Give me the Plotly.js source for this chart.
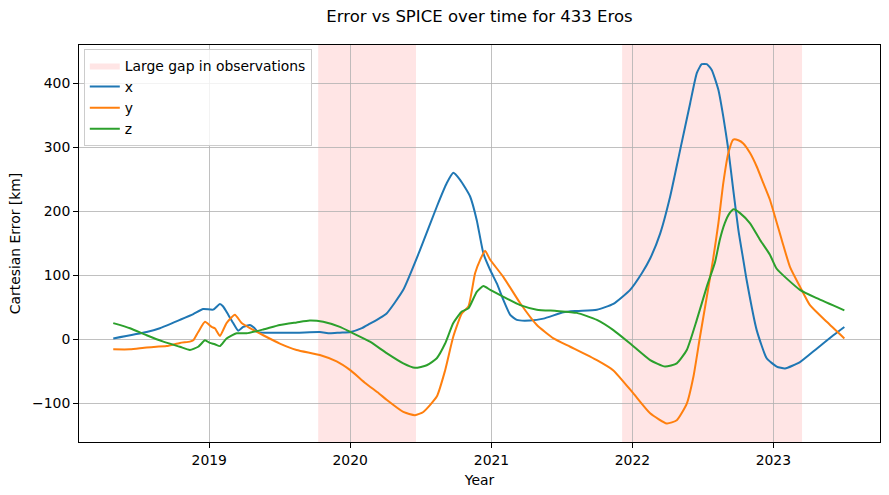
<!DOCTYPE html>
<html>
<head>
<meta charset="utf-8">
<script src="https://cdn.plot.ly/plotly-3.0.1.min.js"></script>
<style>html,body{margin:0;padding:0;background:#fff;}#chart{width:889px;height:495px;}</style>
</head>
<body>
<div id="chart"></div>
<script>
// decimal years and error values [km]
const xYears = [2018.319,2018.556,2018.650,2018.792,2018.887,2018.957,2019.028,2019.076,2019.099,2019.135,2019.170,2019.206,2019.241,2019.289,2019.317,2019.348,2019.407,2019.620,2019.785,2019.856,2019.927,2020.003,2020.083,2020.140,2020.204,2020.258,2020.376,2020.494,2020.613,2020.684,2020.730,2020.778,2020.849,2020.896,2020.943,2020.991,2021.038,2021.085,2021.133,2021.180,2021.274,2021.369,2021.511,2021.606,2021.748,2021.865,2021.984,2022.067,2022.126,2022.197,2022.268,2022.339,2022.410,2022.457,2022.492,2022.528,2022.563,2022.610,2022.645,2022.681,2022.716,2022.752,2022.787,2022.811,2022.882,2022.953,2023.024,2023.083,2023.189,2023.308,2023.426,2023.504];
const xErr = [1,11,17,30,39,47,46,55,51,38,25,13,19,22,18,11,10,10,11,9,10,11,17,24,32,40,77,139,207,244,260,249,223,186,134,108,87,61,38,30,29,32,42,44,46,55,77,103,126,165,223,296,369,416,430,430,421,390,348,296,233,171,124,92,14,-30,-43,-46,-36,-15,6,19];

const yYears = [2018.319,2018.438,2018.556,2018.698,2018.792,2018.863,2018.887,2018.922,2018.970,2019.017,2019.040,2019.076,2019.123,2019.182,2019.230,2019.289,2019.383,2019.501,2019.620,2019.785,2019.904,2020.003,2020.109,2020.204,2020.258,2020.376,2020.459,2020.518,2020.613,2020.672,2020.730,2020.790,2020.837,2020.884,2020.920,2020.955,2020.991,2021.085,2021.204,2021.322,2021.440,2021.559,2021.748,2021.865,2022.007,2022.126,2022.244,2022.315,2022.386,2022.433,2022.480,2022.528,2022.572,2022.610,2022.645,2022.681,2022.716,2022.752,2022.787,2022.835,2022.882,2022.929,2022.976,2023.060,2023.118,2023.189,2023.260,2023.379,2023.504];
const yErr = [-16,-16,-13,-11,-6,-4,-2,11,27,19,17,5,25,38,25,17,6,-7,-17,-25,-35,-49,-69,-85,-95,-114,-119,-114,-90,-49,4,40,51,103,124,138,124,97,56,22,1,-12,-33,-49,-85,-116,-132,-127,-101,-59,4,66,124,181,244,291,312,311,306,291,270,244,218,155,113,82,53,27,1];

const zYears = [2018.319,2018.438,2018.556,2018.674,2018.792,2018.863,2018.922,2018.970,2019.005,2019.040,2019.076,2019.123,2019.194,2019.265,2019.383,2019.501,2019.620,2019.714,2019.809,2019.927,2020.003,2020.140,2020.258,2020.376,2020.459,2020.542,2020.613,2020.672,2020.730,2020.790,2020.837,2020.896,2020.943,2020.991,2021.085,2021.204,2021.322,2021.464,2021.606,2021.748,2021.865,2021.984,2022.126,2022.232,2022.315,2022.386,2022.457,2022.528,2022.586,2022.620,2022.655,2022.690,2022.719,2022.764,2022.835,2022.906,2022.976,2023.024,2023.189,2023.308,2023.504];
const zErr = [25,17,6,-4,-12,-17,-12,-2,-6,-8,-11,1,9,9,15,22,26,29,27,19,11,-4,-22,-38,-45,-41,-30,-7,25,43,48,74,83,77,66,53,46,44,41,30,14,-7,-33,-43,-38,-17,30,82,120,155,181,197,203,197,181,155,132,110,77,64,45];

// large observation gaps (decimal years)
const gapStarts = [2019.773, 2021.927];
const gapEnds = [2020.466, 2023.204];
const gapLabel = 'Large gap in observations';

const seriesNames = ['x', 'y', 'z'];
const tickYears = [2019, 2020, 2021, 2022, 2023];

function decToDate(y) {
  const yr = Math.floor(y);
  const s = Date.UTC(yr, 0, 1), e = Date.UTC(yr + 1, 0, 1);
  return new Date(s + (y - yr) * (e - s)).toISOString().slice(0, 19).replace('T', ' ');
}

const colors = ['#1f77b4', '#ff7f0e', '#2ca02c'];
const gapFill = 'rgba(255,0,0,0.1)';
const yearsList = [xYears, yYears, zYears];
const errList = [xErr, yErr, zErr];

// legend entry for the shaded gap regions (patch symbol)
const gapLegend = {
  x: [null], y: [null],
  type: 'scatter', mode: 'lines',
  fill: 'toself', fillcolor: gapFill,
  line: {width: 0, color: gapFill},
  name: gapLabel,
  hoverinfo: 'skip'
};

const traces = [gapLegend].concat(seriesNames.map((n, i) => ({
  x: yearsList[i].map(decToDate),
  y: errList[i],
  name: n,
  type: 'scatter',
  mode: 'lines',
  line: {color: colors[i], width: 2, shape: 'spline', smoothing: 0.5}
})));

const shapes = gapStarts.map((s, i) => ({
  type: 'rect',
  xref: 'x', yref: 'paper',
  x0: decToDate(s), x1: decToDate(gapEnds[i]),
  y0: 0, y1: 1,
  fillcolor: gapFill,
  line: {width: 0},
  layer: 'below'
}));

const font = {family: 'DejaVu Sans, sans-serif', size: 13.9, color: '#000'};

const layout = {
  width: 889, height: 495,
  margin: {l: 79, r: 9, t: 45, b: 53},
  paper_bgcolor: '#fff', plot_bgcolor: '#fff',
  font: font,
  title: {text: 'Error vs SPICE over time for 433 Eros', x: 0.5, xref: 'paper', y: 0.967, yanchor: 'middle', font: {family: 'DejaVu Sans, sans-serif', size: 16.5, color: '#000'}},
  xaxis: {
    type: 'date',
    range: [decToDate(2018.076), decToDate(2023.757)],
    tickvals: tickYears.map(y => decToDate(y)),
    ticktext: tickYears.map(String),
    ticks: 'outside', ticklen: 5, tickwidth: 1, tickcolor: '#000',
    showgrid: true, gridcolor: '#b0b0b0', gridwidth: 0.8,
    showline: true, linecolor: '#000', linewidth: 1, mirror: true,
    zeroline: false,
    title: {text: 'Year', standoff: 8, font: font},
    tickfont: font
  },
  yaxis: {
    range: [-161, 460],
    tickvals: [-100, 0, 100, 200, 300, 400],
    ticks: 'outside', ticklen: 5, tickwidth: 1, tickcolor: '#000',
    showgrid: true, gridcolor: '#b0b0b0', gridwidth: 0.8,
    showline: true, linecolor: '#000', linewidth: 1, mirror: true,
    zeroline: false,
    title: {text: 'Cartesian Error [km]', standoff: 8, font: font},
    tickfont: font
  },
  legend: {
    x: 0.006, y: 0.99, xanchor: 'left', yanchor: 'top',
    bgcolor: 'rgba(255,255,255,0.8)', bordercolor: '#cccccc', borderwidth: 1,
    font: font, tracegroupgap: 0, itemwidth: 30
  },
  shapes: shapes,
  showlegend: true
};

Plotly.newPlot('chart', traces, layout, {displayModeBar: false, staticPlot: true});
</script>
</body>
</html>
